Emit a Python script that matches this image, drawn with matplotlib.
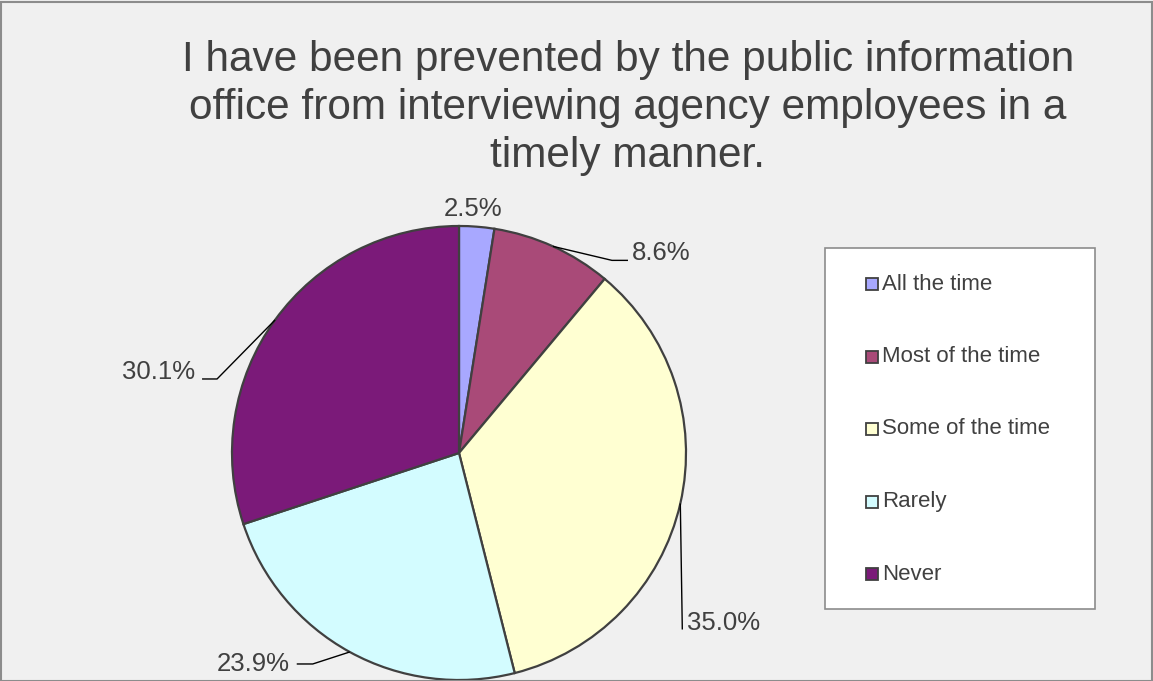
import numpy as np
import matplotlib
matplotlib.use("Agg")
import matplotlib.pyplot as plt
from matplotlib.patches import Rectangle

# ── data ──────────────────────────────────────────────────────────────────────
categories = ["All the time", "Most of the time", "Some of the time", "Rarely", "Never"]
shares = [2.5, 8.6, 35.0, 23.9, 30.1]
labels = [f"{v:.1f}%" for v in shares]
colors = ["#a8a8ff", "#a94a78", "#ffffd2", "#d3fcff", "#7b1a79"]
title = ("I have been prevented by the public information\n"
         "office from interviewing agency employees in a\n"
         "timely manner.")

# ── layout (pixels) ───────────────────────────────────────────────────────────
W, H = 1153, 681
CX, CY, R = 459, H - 453, 227
TXT = "#404040"
EDGE = "#404040"
plt.rcParams["font.family"] = ["Liberation Sans", "DejaVu Sans"]

# label offsets from wedge mid-point on the arc: (elbow, end, text, ha), y down
label_layout = [
    (None, None, (-4, -18), "center"),
    ((59, 14), (75, 14), (79, 14), "left"),
    ((2, 126), (2, 126), (7, 126), "left"),
    ((-37, 12), (-53, 12), (-60, 19), "right"),
    ((-58, 59), (-73, 59), (-80, 59), "right"),
]

fig = plt.figure(figsize=(W / 100, H / 100), dpi=100)
fig.patch.set_facecolor("#f0f0f0")
ax = fig.add_axes([0, 0, 1, 1])
ax.set_facecolor("#f0f0f0")

wedges, _ = ax.pie(shares, colors=colors, startangle=90, counterclock=False,
                   center=(CX, CY), radius=R,
                   wedgeprops=dict(edgecolor=EDGE, linewidth=1.6))
ax.set_xlim(0, W)
ax.set_ylim(0, H)
ax.set_aspect("equal")
ax.axis("off")

# data labels with leader lines
for w, lab, (elbow, end, tpos, ha) in zip(wedges, labels, label_layout):
    mid = np.deg2rad((w.theta1 + w.theta2) / 2)
    px, py = CX + R * np.cos(mid), CY + R * np.sin(mid)
    if elbow is not None:
        xs = [px, px + elbow[0], px + end[0]]
        ys = [py, py - elbow[1], py - end[1]]
        ax.plot(xs, ys, color="black", lw=1.0, solid_capstyle="butt")
        ax.text(px + tpos[0], py - tpos[1], lab, ha=ha, va="baseline",
                fontsize=18.5, color=TXT)
    else:
        ax.text(px + tpos[0], py - tpos[1], lab, ha=ha, va="center",
                fontsize=18.5, color=TXT)

# title
fig.text(628 / W, 1 - 40 / H, title, ha="center", va="top", fontsize=30.5,
         color=TXT, linespacing=1.25)

# legend box (drawn by hand to match spacing)
LX0, LY0, LX1, LY1 = 825, 248, 1095, 609
ax.add_patch(Rectangle((LX0, H - LY1), LX1 - LX0, LY1 - LY0,
                       facecolor="white", edgecolor="#8c8c8c", lw=1.2))
for i, (cat, col) in enumerate(zip(categories, colors)):
    yc = H - (284 + i * 72.5)
    ax.add_patch(Rectangle((866, yc - 6), 12, 12, facecolor=col,
                           edgecolor=EDGE, lw=1.3))
    ax.text(882, yc, cat, ha="left", va="center", fontsize=16, color=TXT)

# outer frame
fig.patches.append(Rectangle((0.5 / W, 0), 1 - 1.5 / W, 1 - 1.5 / H,
                             transform=fig.transFigure, fill=False,
                             edgecolor="#8c8c8c", lw=1.5))

fig.savefig("out.png", dpi=100, facecolor=fig.get_facecolor())
